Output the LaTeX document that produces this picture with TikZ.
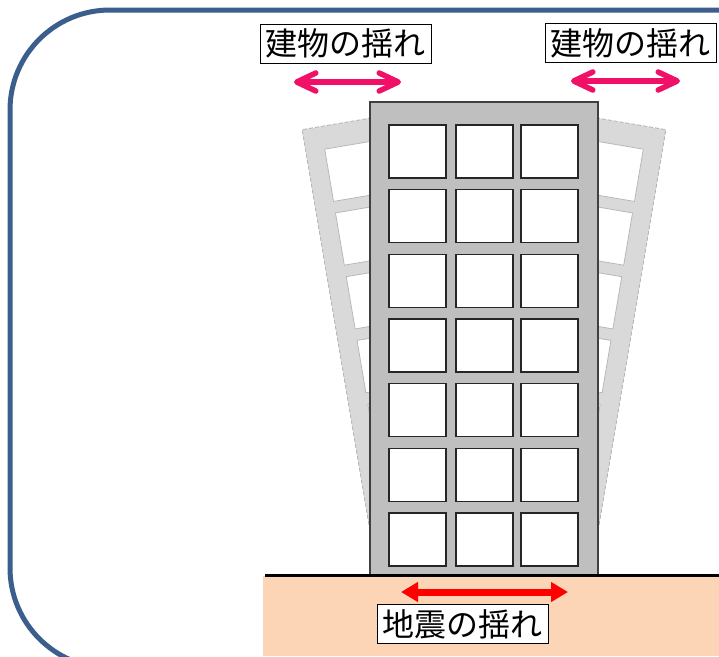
\documentclass[tikz,border=0pt]{standalone}
\usepackage{fontspec}
\newfontfamily\jpfont{Noto Sans CJK JP}
\definecolor{frameblue}{RGB}{59, 94, 140}
\definecolor{groundpeach}{RGB}{251, 213, 181}
\definecolor{swaypink}{RGB}{240, 16, 104}
\definecolor{quakered}{RGB}{255, 0, 0}
\definecolor{bldggray}{RGB}{191, 191, 191}
\definecolor{ghostgray}{RGB}{217, 217, 217}
\usetikzlibrary{arrows.meta, positioning}
\tikzset{
	tag/.style={rectangle, draw=black, line width=0.9pt, fill=white, inner sep=0pt, minimum width=171pt, minimum height=39pt, font=\jpfont\fontsize{32}{32}\selectfont},
	bldgframe/.style={draw=black!75, fill=bldggray, line width=1.3pt},
	bldgwin/.style={draw=black!85, fill=white, line width=1.3pt},
	ghostframe/.style={draw=black!30, fill=ghostgray, line width=0.8pt, dash pattern=on 4pt off 2pt},
	ghostwin/.style={draw=black!28, fill=white, line width=0.8pt},
	swayarrow/.style={{Straight Barb[length=19pt, width=18pt, round]}-{Straight Barb[length=19pt, width=18pt, round]}, line width=5.5pt, draw=swaypink, line cap=round},
	quakearrow/.style={{Triangle[length=17pt, width=19pt]}-{Triangle[length=17pt, width=19pt]}, line width=7pt, draw=quakered},
}
% storey block: frame style, window style, width, window columns; origin at the bottom-left corner
\newcommand{\bldgbody}[4]{%
	\draw[#1] (0,0) rectangle (#3,-473);
	\foreach \r in {0,...,6}
		\foreach \c in {#4}
			\draw[#2] (\c,-450+64.67*\r) rectangle ++(57,53);
}

\begin{document}
\begin{tikzpicture}[x=1pt, y=-1pt]
		\useasboundingbox (0,0) rectangle (719,656);
		\clip (0,0) rectangle (719,656);
		\draw[frameblue, line width=5pt, rounded corners=100pt] (10,10) rectangle (830,668);
		% swaying copies behind
		\begin{scope}[shift={(381,596)}, rotate=9.6]
			\bldgbody{ghostframe}{ghostwin}{150}{19,84}
		\end{scope}
		\begin{scope}[shift={(587,596)}, rotate=-9.6, xscale=-1]
			\bldgbody{ghostframe}{ghostwin}{150}{19,84}
		\end{scope}
		\begin{scope}[shift={(370,575)}]
			\bldgbody{bldgframe}{bldgwin}{228}{19,86,151}
		\end{scope}
		% ground
		\fill[groundpeach] (263,576) rectangle (719,656);
		\draw[line width=3pt] (265,575.5) -- (719,575.5);
		\node[tag] (tagL) at (345.5,43.5) {建物の揺れ};
		\node[tag] (tagR) at (630.5,43) {建物の揺れ};
		\node[tag] (tagQ) at (462.5,624) {地震の揺れ};
		\coordinate (swayL1) at (294,82);
		\coordinate (swayL2) at (401,82);
		\coordinate (swayR1) at (571,81);
		\coordinate (swayR2) at (680,81);
		\coordinate (quake1) at (401,592);
		\coordinate (quake2) at (568,592);
		\draw[swayarrow] (swayL1) -- (swayL2);
		\draw[swayarrow] (swayR1) -- (swayR2);
		\draw[quakearrow] (quake1) -- (quake2);
	\end{tikzpicture}
\end{document}
